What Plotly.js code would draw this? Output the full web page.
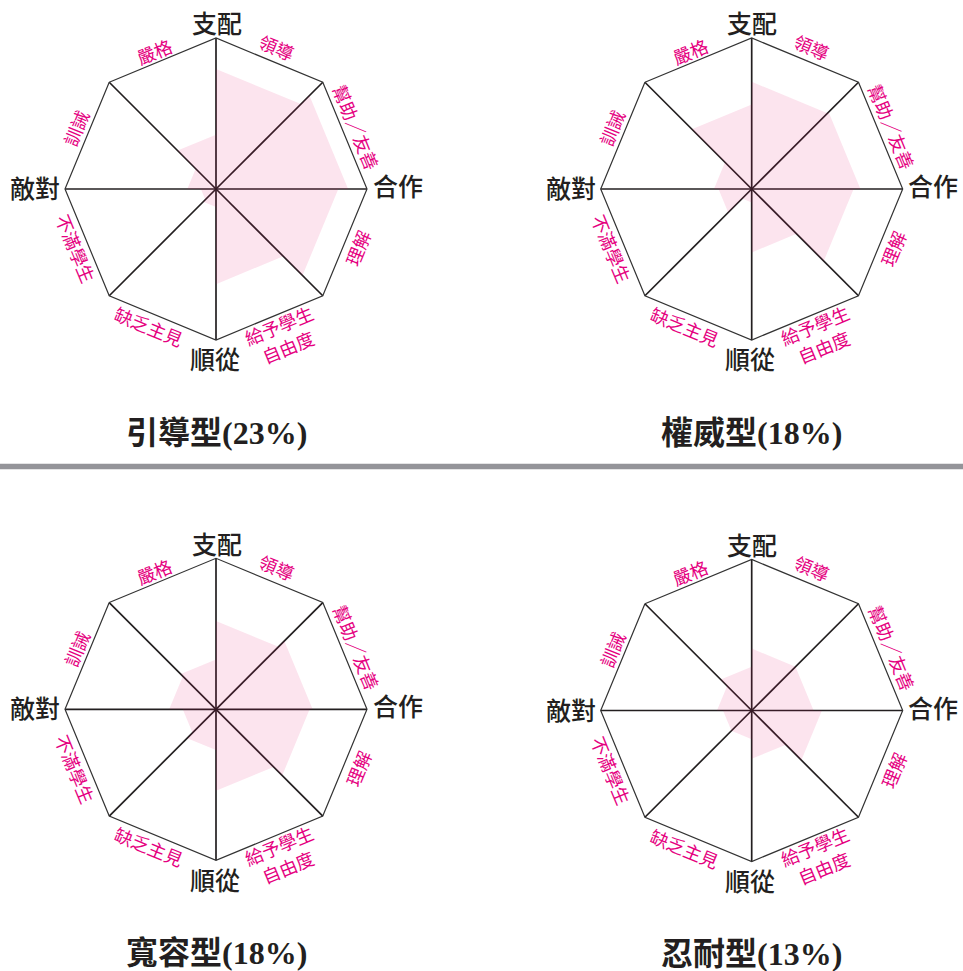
<!DOCTYPE html>
<html><head><meta charset="utf-8">
<script src="https://cdn.plot.ly/plotly-3.0.1.min.js"></script>
<style>html,body{margin:0;padding:0;background:#fff}</style>
</head><body><div id="chart" style="width:963px;height:971px"></div>
<script>
// ---- data ----
const spokeIds = ['支配','支配-合作','合作','合作-順從','順從','順從-敵對','敵對','敵對-支配'];
const axisLabels = ['支配','合作','順從','敵對'];
const sectorLabels = ['領導','幫助／友善','理解','給予學生<br>自由度','缺乏主見','不滿學生','訓誡','嚴格'];
const chartTitles = ['引導型(23%)','權威型(18%)','寬容型(18%)','忍耐型(13%)'];
// sector scores (fraction of full scale), order follows sectorLabels
const guidance      = [0.795,0.875,0.81,0.63,0.12,0.10,0.19,0.36];
const authoritative = [0.71,0.72,0.675,0.42,0.09,0.22,0.25,0.56];
const tolerant      = [0.585,0.64,0.62,0.54,0.27,0.22,0.31,0.33];
const patient       = [0.41,0.41,0.465,0.32,0.19,0.19,0.23,0.29];
const profiles = [guidance, authoritative, tolerant, patient];

// ---- layout geometry ----
const W = 963, H = 971, R = 151;
const centers = [[216,189],[751.7,189],[216,709.3],[751.7,710.5]];
const sectorOffsets = [[60.7,-142.3],[140.7,-62.3],[141.5,59.3],[67.3,146],[-67,137],[-140.2,59.3],[-140.2,-60.7],[-61.8,-138.2]];
const sectorAngles = [22.5,67.5,-67.5,-22.5,22.5,67.5,-67.5,-22.5];
const axisOffsets = [[0.7,-166.5],[181.5,-4],[-1.3,169.3],[-181,-2]];
const titleOffsetY = 243.5;

const px = x => x / W, py = y => 1 - y / H;
const ink = '#231f20', pink = '#e5007f';

const traces = [], annotations = [], layout = {
  width: W, height: H, margin:{l:0,r:0,t:0,b:0}, paper_bgcolor:'#fff', showlegend:false,
  shapes:[{type:'rect', xref:'paper', yref:'paper', x0:0, x1:1, y0:py(469.3), y1:py(463.8), fillcolor:'#949499', line:{width:0}}]
};

profiles.forEach((vals, k) => {
  const sub = k === 0 ? 'polar' : 'polar' + (k + 1);
  const [cx, cy] = centers[k];
  const r = [], th = [];
  vals.forEach((v, i) => {
    r.push(v, v);
    th.push(spokeIds[i], spokeIds[(i + 1) % spokeIds.length]);
  });
  r.push(r[0]); th.push(th[0]);
  traces.push({type:'scatterpolar', subplot:sub, r:r, theta:th, mode:'lines', line:{width:0, color:'rgba(0,0,0,0)'},
    fill:'toself', fillcolor:'rgba(228,10,100,0.11)', hoverinfo:'skip'});
  layout[sub] = {
    domain:{x:[px(cx - R), px(cx + R)], y:[py(cy + R), py(cy - R)]},
    gridshape:'linear', bgcolor:'rgba(0,0,0,0)',
    radialaxis:{visible:false, range:[0,1], showgrid:false, showline:false, showticklabels:false, ticks:''},
    angularaxis:{type:'category', categoryorder:'array', categoryarray:spokeIds, rotation:90, direction:'clockwise',
      showgrid:true, gridcolor:ink, gridwidth:1.7, showline:true, linecolor:'#333', linewidth:1.2,
      ticks:'', showticklabels:false}
  };
  sectorLabels.forEach((t, i) => {
    annotations.push({xref:'paper', yref:'paper', x:px(cx + sectorOffsets[i][0]), y:py(cy + sectorOffsets[i][1]),
      text:t, showarrow:false, xanchor:'center', yanchor:'middle', textangle:sectorAngles[i],
      font:{family:'"Noto Sans CJK TC", sans-serif', size:18, color:pink}});
  });
  axisLabels.forEach((t, i) => {
    annotations.push({xref:'paper', yref:'paper', x:px(cx + axisOffsets[i][0]), y:py(cy + axisOffsets[i][1]),
      text:t, showarrow:false, xanchor:'center', yanchor:'middle',
      font:{family:'"Noto Sans CJK TC", sans-serif', size:25, weight:500, color:ink}});
  });
  annotations.push({xref:'paper', yref:'paper', x:px(cx), y:py(cy + titleOffsetY), text:'<b>' + chartTitles[k] + '</b>',
    showarrow:false, xanchor:'center', yanchor:'middle',
    font:{family:'"Liberation Serif", "Noto Sans CJK TC", serif', size:32, color:ink}});
});
layout.annotations = annotations;
Plotly.newPlot('chart', traces, layout, {displayModeBar:false, staticPlot:true});
</script></body></html>
